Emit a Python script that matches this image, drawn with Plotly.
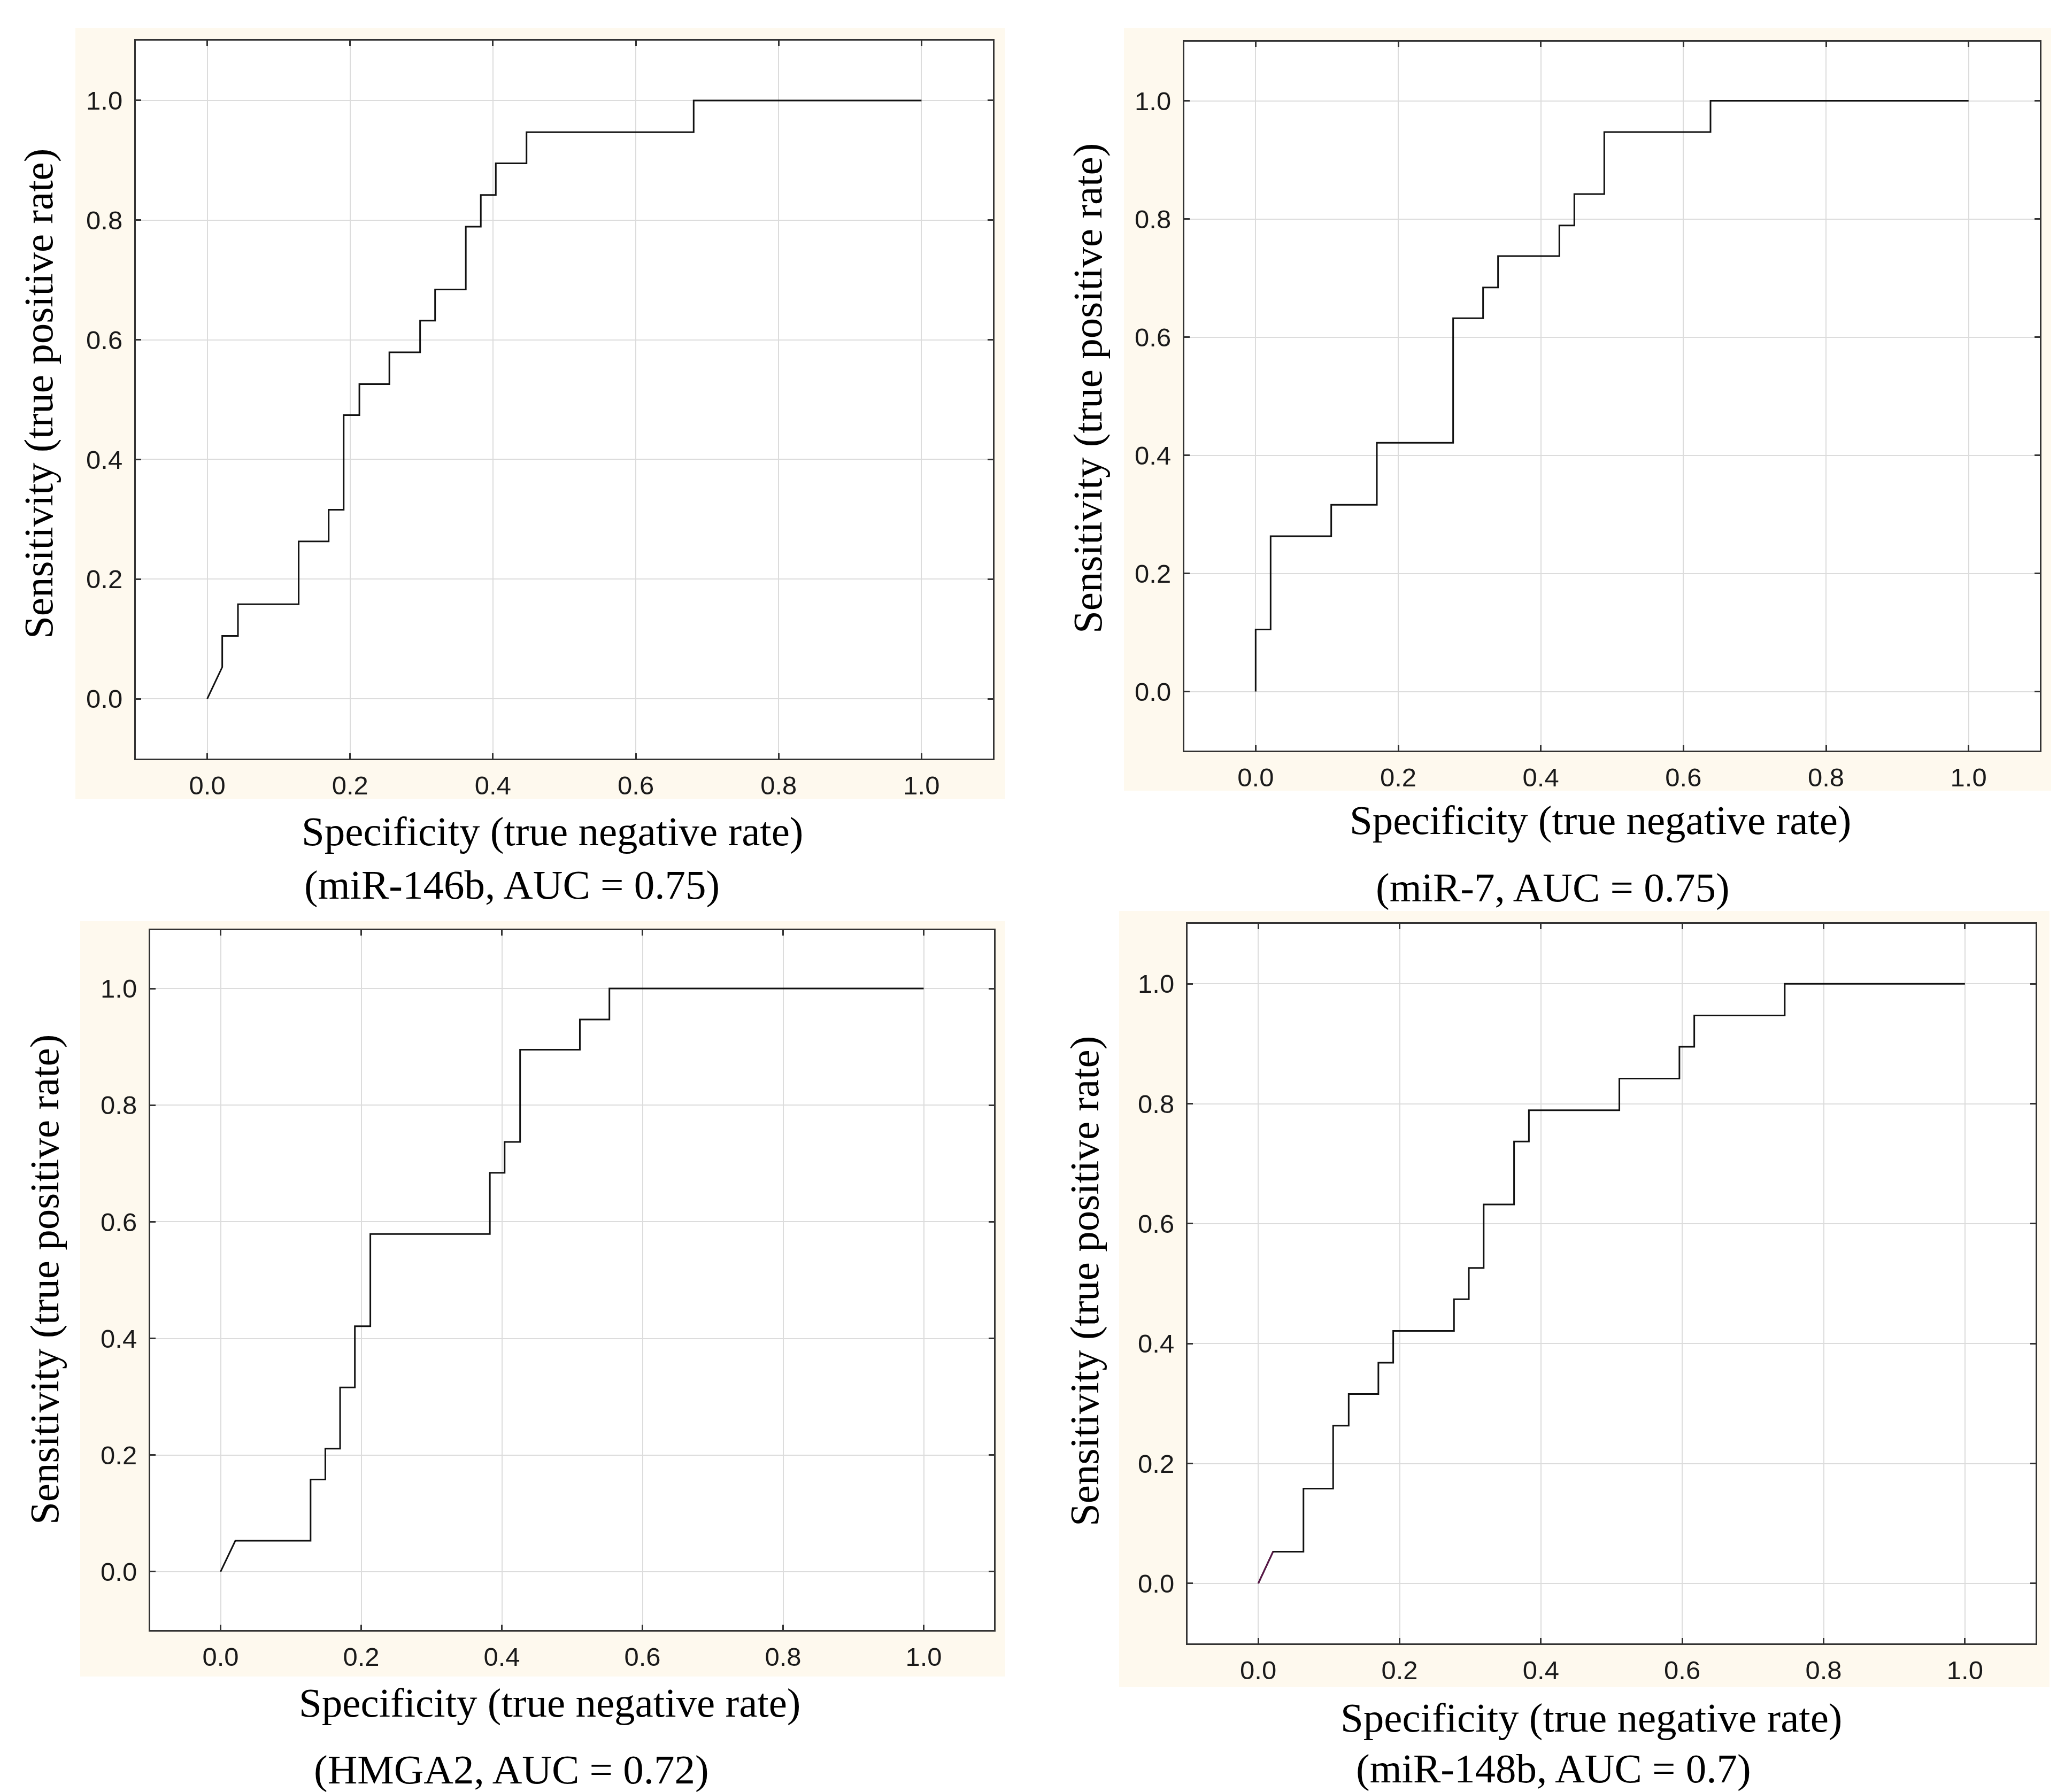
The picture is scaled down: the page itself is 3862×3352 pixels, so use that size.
import plotly.graph_objects as go

W, H = 3862, 3352

# ---------------- data ----------------
tick_vals = [0.0, 0.2, 0.4, 0.6, 0.8, 1.0]
tick_text = ["0.0", "0.2", "0.4", "0.6", "0.8", "1.0"]

x_title = "Specificity (true negative rate)"
y_title = "Sensitivity (true positive rate)"
captions = ["(miR-146b, AUC = 0.75)", "(miR-7, AUC = 0.75)",
            "(HMGA2, AUC = 0.72)", "(miR-148b, AUC = 0.7)"]

spec_mir146b = [0, 0.021, 0.021, 0.043, 0.043, 0.128, 0.128, 0.170, 0.170, 0.191,
                0.191, 0.213, 0.213, 0.255, 0.255, 0.298, 0.298, 0.319, 0.319, 0.362,
                0.362, 0.383, 0.383, 0.404, 0.404, 0.447, 0.447, 0.681, 0.681, 1.0]
sens_mir146b = [0, 0.053, 0.105, 0.105, 0.158, 0.158, 0.263, 0.263, 0.316, 0.316,
                0.474, 0.474, 0.526, 0.526, 0.579, 0.579, 0.632, 0.632, 0.684, 0.684,
                0.789, 0.789, 0.842, 0.842, 0.895, 0.895, 0.947, 0.947, 1.0, 1.0]

spec_mir7 = [0, 0, 0.021, 0.021, 0.106, 0.106, 0.170, 0.170, 0.277, 0.277, 0.319, 0.319,
             0.340, 0.340, 0.426, 0.426, 0.447, 0.447, 0.489, 0.489, 0.638, 0.638, 1.0]
sens_mir7 = [0, 0.105, 0.105, 0.263, 0.263, 0.316, 0.316, 0.421, 0.421, 0.632, 0.632, 0.684,
             0.684, 0.737, 0.737, 0.789, 0.789, 0.842, 0.842, 0.947, 0.947, 1.0, 1.0]

spec_hmga2 = [0, 0.021, 0.128, 0.128, 0.149, 0.149, 0.170, 0.170, 0.191, 0.191, 0.213, 0.213,
              0.383, 0.383, 0.404, 0.404, 0.426, 0.426, 0.511, 0.511, 0.553, 0.553, 1.0]
sens_hmga2 = [0, 0.053, 0.053, 0.158, 0.158, 0.211, 0.211, 0.316, 0.316, 0.421, 0.421, 0.579,
              0.579, 0.684, 0.684, 0.737, 0.737, 0.895, 0.895, 0.947, 0.947, 1.0, 1.0]

spec_mir148b = [0, 0.021, 0.064, 0.064, 0.106, 0.106, 0.128, 0.128, 0.170, 0.170, 0.191,
                0.191, 0.277, 0.277, 0.298, 0.298, 0.319, 0.319, 0.362, 0.362, 0.383,
                0.383, 0.511, 0.511, 0.596, 0.596, 0.617, 0.617, 0.745, 0.745, 1.0]
sens_mir148b = [0, 0.053, 0.053, 0.158, 0.158, 0.263, 0.263, 0.316, 0.316, 0.368, 0.368,
                0.421, 0.421, 0.474, 0.474, 0.526, 0.526, 0.632, 0.632, 0.737, 0.737,
                0.789, 0.789, 0.842, 0.842, 0.895, 0.895, 0.947, 0.947, 1.0, 1.0]

series = [(spec_mir146b, sens_mir146b), (spec_mir7, sens_mir7),
          (spec_hmga2, sens_hmga2), (spec_mir148b, sens_mir148b)]

# ---------------- layout geometry (pixels) ----------------
# plot box: left, right, top, bottom
boxes = [(246, 1849, 68, 1411), (2207, 3807, 70, 1396),
         (273, 1851, 1732, 3041), (2213, 3799, 1720, 3066)]
# cream panels: left, right, top, bottom
creams = [(133, 1872, 44, 1487), (2094, 3828, 44, 1471),
          (142, 1872, 1715, 3128), (2085, 3825, 1696, 3148)]
# x title centre, caption centre, y title centre
xtitle_pos = [(1025, 1547), (2985, 1526), (1020, 3177), (2968, 3205)]
caption_pos = [(949, 1647), (2896, 1652), (948, 3302), (2897, 3300)]
ytitle_pos = [(64, 729), (2026, 719), (75, 2386), (2020, 2389)]

def fx(px):
    return px / W

def fy(py):
    return 1 - py / H

SERIF = "Liberation Serif"
SANS = "Liberation Sans"
title_size = 77
tick_size = 49

fig = go.Figure()
layout = dict(width=W, height=H, margin=dict(l=0, r=0, t=0, b=0),
              paper_bgcolor="white", plot_bgcolor="white", showlegend=False)
shapes = []
annotations = []

for i, ((xs, ys), box) in enumerate(zip(series, boxes)):
    n = i + 1
    xa = "x" if n == 1 else f"x{n}"
    ya = "y" if n == 1 else f"y{n}"
    fig.add_trace(go.Scatter(x=xs, y=ys, mode="lines", xaxis=xa, yaxis=ya,
                             line=dict(color="#111111", width=3), hoverinfo="skip"))
    if i == 3:
        fig.add_trace(go.Scatter(x=xs[:2], y=ys[:2], mode="lines", xaxis=xa, yaxis=ya,
                                 line=dict(color="#5a1748", width=3), hoverinfo="skip"))
    l, r, t, b = box
    common = dict(range=[-0.1, 1.1], tickvals=tick_vals, ticktext=tick_text,
                  showgrid=True, gridcolor="#dcdcdc", gridwidth=2, zeroline=False,
                  showline=True, linecolor="#333333", linewidth=3, mirror="ticks",
                  ticks="inside", ticklen=10, tickwidth=3, tickcolor="#333333",
                  tickfont=dict(family=SANS, size=tick_size, color="#1a1a1a"),
                  fixedrange=True)
    layout["xaxis" if n == 1 else f"xaxis{n}"] = dict(
        common, domain=[fx(l), fx(r)], anchor=ya, ticklabelstandoff=5)
    layout["yaxis" if n == 1 else f"yaxis{n}"] = dict(
        common, domain=[fy(b), fy(t)], anchor=xa, ticklabelstandoff=12)

    cl, cr, ct, cb = creams[i]
    shapes.append(dict(type="rect", xref="paper", yref="paper",
                       x0=fx(cl), x1=fx(cr), y0=fy(cb), y1=fy(ct),
                       fillcolor="#fef9ee", line=dict(width=0), layer="below"))
    shapes.append(dict(type="rect", xref="paper", yref="paper",
                       x0=fx(l), x1=fx(r), y0=fy(b), y1=fy(t),
                       fillcolor="white", line=dict(width=0), layer="below"))

    tx, ty = xtitle_pos[i]
    annotations.append(dict(text=x_title, x=fx(tx), y=fy(ty), xref="paper", yref="paper",
                            xanchor="center", yanchor="middle", showarrow=False,
                            font=dict(family=SERIF, size=title_size, color="black")))
    cx, cy = caption_pos[i]
    annotations.append(dict(text=captions[i], x=fx(cx), y=fy(cy), xref="paper", yref="paper",
                            xanchor="center", yanchor="middle", showarrow=False,
                            font=dict(family=SERIF, size=title_size, color="black")))
    yx, yy = ytitle_pos[i]
    annotations.append(dict(text=y_title, x=fx(yx), y=fy(yy), xref="paper", yref="paper",
                            xanchor="center", yanchor="middle", showarrow=False,
                            textangle=-90,
                            font=dict(family=SERIF, size=title_size, color="black")))

layout["shapes"] = shapes
layout["annotations"] = annotations
fig.update_layout(**layout)
fig.write_html("out.html")
